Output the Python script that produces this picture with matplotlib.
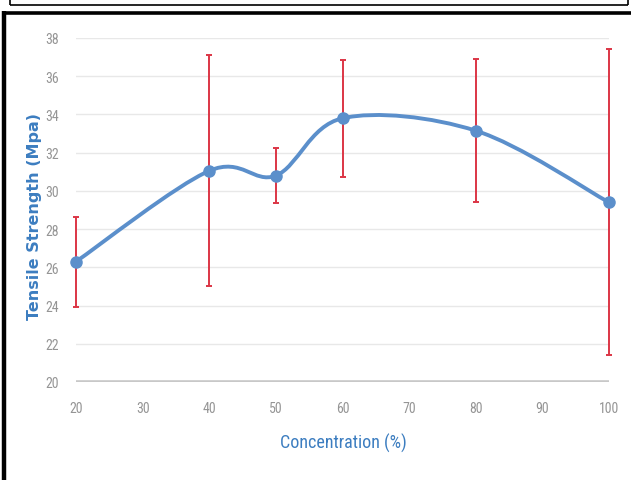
import numpy as np
import matplotlib
matplotlib.use("Agg")
import matplotlib.pyplot as plt
from matplotlib.path import Path
from matplotlib.patches import PathPatch
from matplotlib.lines import Line2D
from matplotlib import font_manager

# Data
concentration = [20, 40, 50, 60, 80, 100]
tensile_strength = [26.3, 31.05, 30.8, 33.8, 33.15, 29.4]
strength_error = [2.35, 6.05, 1.45, 3.07, 3.75, 8.0]
x_ticks = [20, 30, 40, 50, 60, 70, 80, 90, 100]
y_ticks = [20, 22, 24, 26, 28, 30, 32, 34, 36, 38]

names = {f.name for f in font_manager.fontManager.ttflist}
narrow = "DejaVu Sans"
for cand in ["Liberation Sans Narrow", "DejaVu Sans Condensed",
             "Roboto Condensed", "Open Sans Condensed", "Noto Sans Condensed"]:
    if cand in names:
        narrow = cand
        break
narrow_stretch = "condensed"

W, H = 631, 481
fig = plt.figure(figsize=(W / 100, H / 100), dpi=100)
fig.patch.set_facecolor("white")

ax = fig.add_axes([76 / W, 1 - 383 / H, (609 - 76) / W, (383 - 39) / H])
ax.set_xlim(20, 100)
ax.set_ylim(20, 38)

line_color = "#5B8FCB"
err_color = "#DC3545"
grid_color = "#E8E8E8"
tick_color = "#959595"
label_color = "#3C7DC0"

for y in y_ticks[1:]:
    ax.axhline(y, color=grid_color, lw=1.0, zorder=0)
ax.axhline(20, color="#C8C8C8", lw=2.6, zorder=1)

for s in ax.spines.values():
    s.set_visible(False)
ax.set_xticks(x_ticks)
ax.set_yticks(y_ticks)
ax.tick_params(length=0, labelsize=10, labelcolor=tick_color, pad=14)
ax.tick_params(axis="y", pad=12)
for lab in ax.get_xticklabels() + ax.get_yticklabels():
    lab.set_fontfamily(narrow)
    lab.set_fontstretch(narrow_stretch)

# Smoothed line through the points (Catmull-Rom style Bezier segments)
pts = np.column_stack([concentration, tensile_strength])
ext = np.vstack([pts[0], pts, pts[-1]])
verts = [tuple(pts[0])]
codes = [Path.MOVETO]
for i in range(len(pts) - 1):
    p0, p1, p2, p3 = ext[i], ext[i + 1], ext[i + 2], ext[i + 3]
    c1 = p1 + (p2 - p0) / 6
    c2 = p2 - (p3 - p1) / 6
    verts += [tuple(c1), tuple(c2), tuple(p2)]
    codes += [Path.CURVE4] * 3
ax.add_patch(PathPatch(Path(verts, codes), fill=False, edgecolor=line_color,
                       lw=2.8, capstyle="round", joinstyle="round", zorder=3,
                       clip_on=False))

ax.errorbar(concentration, tensile_strength, yerr=strength_error, fmt="none",
            ecolor=err_color, elinewidth=1.4, capsize=2.5, capthick=1.4,
            zorder=4, clip_on=False)
ax.plot(concentration, tensile_strength, "o", color=line_color, ms=8,
        zorder=5, clip_on=False)

fig.text(35 / W, 1 - 216 / H, "Tensile Strength (Mpa)", rotation=90,
         ha="center", va="center", color=label_color, fontsize=11.5,
         fontweight="bold", family="DejaVu Sans")
fig.text(343 / W, 1 - 443 / H, "Concentration (%)", ha="center", va="center",
         color=label_color, fontsize=13, family=narrow,
         fontstretch=narrow_stretch)

# Page frame lines
def px_line(xs, ys, lw, color="black"):
    fig.add_artist(Line2D([x / W for x in xs], [1 - y / H for y in ys],
                          lw=lw, color=color, transform=fig.transFigure,
                          solid_capstyle="butt"))

px_line([10, 628], [6, 6], 1.2)
px_line([10, 10], [0, 6], 1.2)
px_line([628, 628], [0, 6], 1.2)
px_line([2, 631], [13.5, 13.5], 2.6)
px_line([4, 4], [12, 481], 3.2)

fig.savefig("out.png", dpi=100)
